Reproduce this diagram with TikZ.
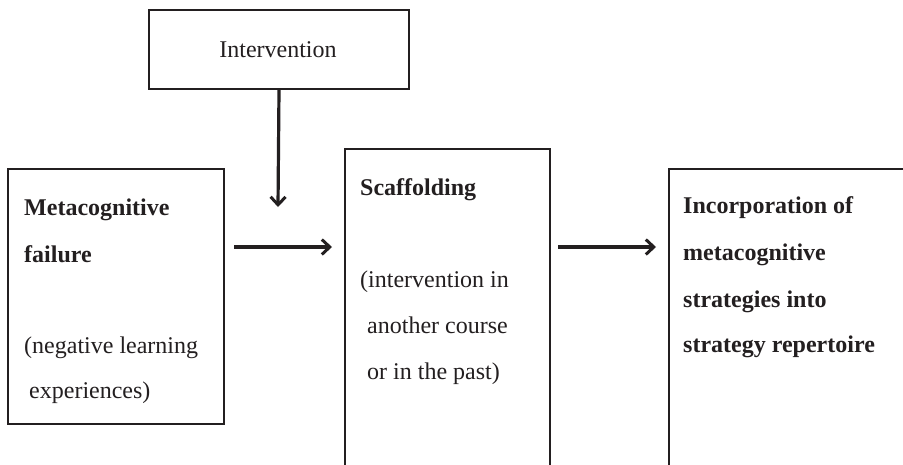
\documentclass[tikz,border=0pt]{standalone}
\usepackage{fontspec}
\setmainfont{Liberation Serif}
\usetikzlibrary{arrows.meta}
\definecolor{ink}{HTML}{231F20}
\begin{document}
\begin{tikzpicture}[x=1pt,y=-1pt,
  boxstyle/.style={draw=ink,line width=2pt,inner sep=0pt,anchor=north west},
  txt/.style={anchor=base west,inner sep=0pt,text=ink,font=\fontsize{24}{28}\selectfont},
  txtb/.style={txt,font=\fontsize{24}{28}\selectfont\bfseries},
  arr/.style={draw=ink,line width=3.2pt,-{Straight Barb[length=8pt,width=15pt,line width=3pt]}}]
\useasboundingbox (0,0) rectangle (903,464);
\clip (0,0) rectangle (903,464);
\fill[white] (0,0) rectangle (903,464);
% boxes
\node[boxstyle,minimum width=260pt,minimum height=79pt] (intv) at (148,9) {};
\node[txt,anchor=base] (intvt) at (278,57) {Intervention};
\node[boxstyle,minimum width=216pt,minimum height=255pt] (fail) at (7,168) {};
\node[boxstyle,minimum width=205pt,minimum height=340pt] (scaf) at (344,148) {};
\node[boxstyle,minimum width=260pt,minimum height=320pt] (inc) at (668,168) {};
% texts
\node[txtb] (f1) at (24,215) {Metacognitive};
\node[txtb] (f2) at (24,262) {failure};
\node[txt] (f3) at (24,353) {(negative learning};
\node[txt] (f4) at (29,398) {experiences)};
\node[txtb] (s1) at (360,195) {Scaffolding};
\node[txt] (s2) at (360,287) {(intervention in};
\node[txt] (s3) at (367,333) {another course};
\node[txt] (s4) at (367,379) {or in the past)};
\node[txtb] (i1) at (683,213) {Incorporation of};
\node[txtb] (i2) at (683,260) {metacognitive};
\node[txtb] (i3) at (683,307) {strategies into};
\node[txtb] (i4) at (683,352) {strategy repertoire};
% arrows
\coordinate (dend) at (278,207);
\coordinate (a1s) at (234,247);
\coordinate (a1e) at (332,247);
\coordinate (a2s) at (558,247);
\coordinate (a2e) at (656,247);
\draw[arr] (intv.south) -- (dend);
\draw[arr] (a1s) -- (a1e);
\draw[arr] (a2s) -- (a2e);
\end{tikzpicture}
\end{document}
